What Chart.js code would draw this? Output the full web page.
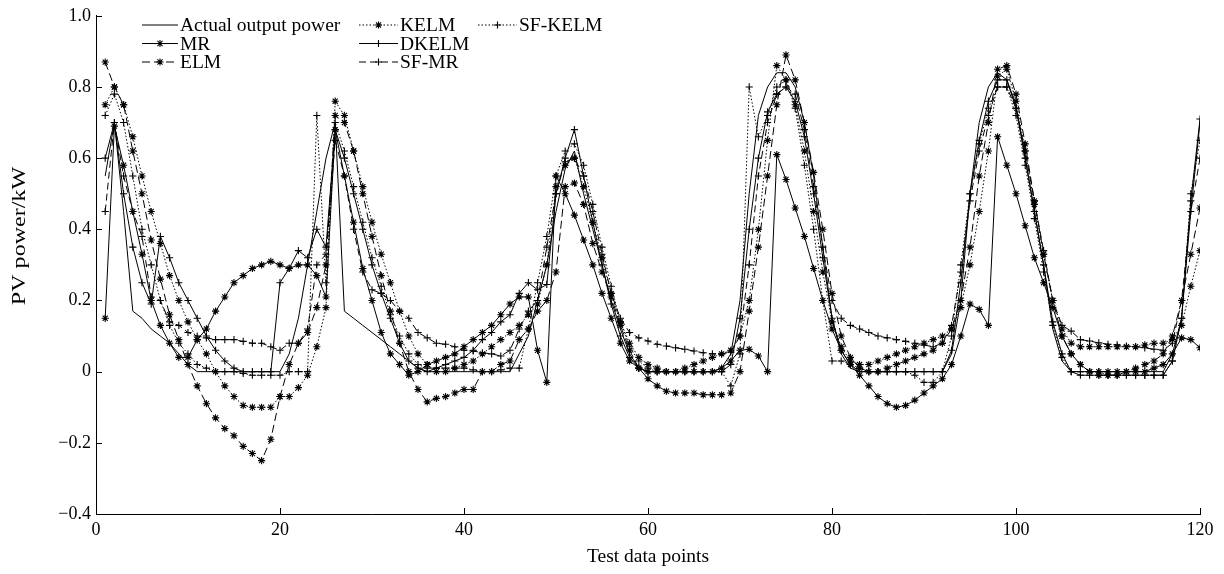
<!DOCTYPE html>
<html lang="en">

<head>
    <meta charset="UTF-8" />
    <title>PV power forecast</title>
    <script src="https://cdn.jsdelivr.net/npm/chart.js"></script>
    <style>
        body { margin: 0; background: #fff; }
        #caixa { width: 1224px; height: 574px; }
    </style>
</head>

<body>
    <div id="caixa"><canvas id="grafico" width="1224" height="574"></canvas></div>
</body>

<script>

    // indice dos pontos de teste (1..120)
    const pontos = Array.from({ length: 120 }, (_, k) => k + 1);

    const actualPower = [
        0.55, 0.70, 0.45, 0.17, 0.15, 0.12, 0.10, 0.08, 0.05, 0.02,
        0, 0, 0, 0, 0, 0, 0, 0, 0, 0,
        0.05, 0.15, 0.30, 0.45, 0.60, 0.70, 0.17, 0.15, 0.13, 0.11,
        0.09, 0.07, 0.05, 0.03, 0.01, 0, 0, 0, 0, 0,
        0, 0, 0, 0, 0, 0.05, 0.10, 0.20, 0.30, 0.45,
        0.57, 0.62, 0.50, 0.40, 0.30, 0.20, 0.12, 0.05, 0.01, 0,
        0, 0, 0, 0, 0, 0, 0, 0.01, 0.05, 0.20,
        0.50, 0.72, 0.80, 0.84, 0.84, 0.80, 0.70, 0.55, 0.35, 0.15,
        0.05, 0.01, 0, 0, 0, 0, 0, 0, 0, 0,
        0, 0, 0.05, 0.20, 0.50, 0.70, 0.80, 0.84, 0.82, 0.75,
        0.60, 0.45, 0.30, 0.12, 0.03, 0, 0, 0, 0, 0,
        0, 0, 0, 0, 0, 0, 0.05, 0.15, 0.45, 0.70
    ];

    const mrPred = [
        0.15, 0.69, 0.58, 0.45, 0.33, 0.20, 0.13, 0.08, 0.04, 0.04,
        0.09, 0.12, 0.17, 0.21, 0.25, 0.27, 0.29, 0.30, 0.31, 0.30,
        0.29, 0.30, 0.30, 0.27, 0.21, 0.68, 0.55, 0.42, 0.29, 0.20,
        0.11, 0.05, 0.02, -0.01, 0.00, 0.02, 0.03, 0.04, 0.05, 0.07,
        0.09, 0.11, 0.13, 0.16, 0.19, 0.21, 0.21, 0.06, -0.03, 0.55,
        0.50, 0.44, 0.37, 0.30, 0.22, 0.15, 0.08, 0.03, 0.01, 0.00,
        0.00, 0.00, 0.00, 0.00, 0.00, 0.00, 0.00, 0.01, 0.03, 0.06,
        0.063, 0.044, 0.00, 0.61, 0.54, 0.46, 0.38, 0.29, 0.20, 0.12,
        0.06, 0.02, -0.01, -0.04, -0.07, -0.09, -0.10, -0.095, -0.08, -0.06,
        -0.04, -0.02, 0.02, 0.10, 0.19, 0.175, 0.13, 0.66, 0.58, 0.50,
        0.41, 0.32, 0.25, 0.18, 0.10, 0.05, 0.02, 0.00, 0.00, 0.00,
        0.00, 0.00, 0.00, 0.00, 0.01, 0.02, 0.05, 0.095, 0.09, 0.067
    ];

    const elmPred = [
        0.87, 0.80, 0.75, 0.62, 0.50, 0.37, 0.26, 0.16, 0.09, 0.02,
        -0.04, -0.09, -0.13, -0.16, -0.18, -0.21, -0.23, -0.25, -0.19, -0.07,
        0.02, 0.08, 0.11, 0.18, 0.30, 0.72, 0.70, 0.62, 0.50, 0.38,
        0.27, 0.17, 0.08, 0.00, -0.05, -0.085, -0.075, -0.07, -0.06, -0.05,
        -0.05, 0.00, 0.00, 0.02, 0.03, 0.09, 0.12, 0.17, 0.20, 0.28,
        0.52, 0.53, 0.47, 0.36, 0.28, 0.21, 0.13, 0.06, 0.01, -0.02,
        -0.04, -0.055, -0.06, -0.06, -0.06, -0.065, -0.065, -0.065, -0.06, 0.00,
        0.17, 0.35, 0.55, 0.75, 0.89, 0.82, 0.70, 0.56, 0.40, 0.22,
        0.10, 0.04, 0.01, 0.00, 0.00, 0.01, 0.02, 0.03, 0.04, 0.05,
        0.06, 0.08, 0.12, 0.20, 0.35, 0.55, 0.70, 0.85, 0.86, 0.78,
        0.64, 0.48, 0.33, 0.20, 0.10, 0.05, 0.02, 0.00, -0.01, -0.01,
        -0.01, 0.00, 0.01, 0.02, 0.03, 0.05, 0.10, 0.20, 0.33, 0.46
    ];

    const kelmPred = [
        0.75, 0.80, 0.75, 0.66, 0.55, 0.45, 0.36, 0.27, 0.20, 0.14,
        0.09, 0.05, 0.00, -0.04, -0.07, -0.095, -0.10, -0.10, -0.10, -0.07,
        -0.07, -0.045, -0.01, 0.07, 0.18, 0.76, 0.72, 0.62, 0.52, 0.42,
        0.33, 0.25, 0.17, 0.10, 0.05, 0.02, 0.00, 0.00, 0.01, 0.02,
        0.03, 0.05, 0.07, 0.09, 0.11, 0.13, 0.16, 0.19, 0.30, 0.52,
        0.58, 0.60, 0.52, 0.42, 0.32, 0.22, 0.14, 0.08, 0.04, 0.02,
        0.01, 0.00, 0.00, 0.01, 0.02, 0.03, 0.04, 0.05, 0.06, 0.10,
        0.20, 0.40, 0.65, 0.86, 0.82, 0.75, 0.62, 0.45, 0.28, 0.14,
        0.07, 0.03, 0.02, 0.02, 0.03, 0.04, 0.05, 0.06, 0.07, 0.08,
        0.09, 0.10, 0.12, 0.18, 0.30, 0.45, 0.62, 0.83, 0.85, 0.76,
        0.62, 0.47, 0.33, 0.20, 0.12, 0.08, 0.07, 0.07, 0.07, 0.07,
        0.07, 0.07, 0.07, 0.075, 0.08, 0.08, 0.09, 0.13, 0.24, 0.34
    ];

    const dkelmPred = [
        0.60, 0.70, 0.50, 0.35, 0.25, 0.19, 0.38, 0.32, 0.25, 0.20,
        0.15, 0.10, 0.06, 0.03, 0.01, 0.00, 0.00, 0.00, 0.00, 0.25,
        0.29, 0.34, 0.32, 0.40, 0.35, 0.68, 0.60, 0.50, 0.40, 0.30,
        0.22, 0.15, 0.08, 0.03, 0.01, 0.00, 0.01, 0.02, 0.03, 0.04,
        0.06, 0.09, 0.11, 0.14, 0.16, 0.22, 0.25, 0.23, 0.245, 0.50,
        0.60, 0.68, 0.55, 0.42, 0.30, 0.19, 0.10, 0.04, 0.01, 0.00,
        0.00, 0.00, 0.00, 0.00, 0.00, 0.00, 0.00, 0.00, 0.02, 0.15,
        0.40, 0.60, 0.73, 0.78, 0.80, 0.76, 0.66, 0.50, 0.32, 0.15,
        0.06, 0.02, 0.00, 0.00, 0.00, 0.00, 0.00, 0.00, 0.00, 0.00,
        0.00, 0.00, 0.06, 0.25, 0.50, 0.65, 0.76, 0.82, 0.82, 0.74,
        0.60, 0.45, 0.30, 0.14, 0.05, 0.00, -0.01, -0.01, -0.01, -0.01,
        -0.01, -0.01, -0.01, -0.01, -0.01, -0.01, 0.03, 0.15, 0.48, 0.71
    ];

    const sfmrPred = [
        0.45, 0.70, 0.55, 0.45, 0.38, 0.21, 0.20, 0.14, 0.13, 0.11,
        0.10, 0.095, 0.09, 0.09, 0.09, 0.085, 0.08, 0.08, 0.07, 0.06,
        0.08, 0.08, 0.12, 0.30, 0.33, 0.65, 0.55, 0.40, 0.28, 0.23,
        0.22, 0.20, 0.17, 0.15, 0.11, 0.095, 0.08, 0.077, 0.07, 0.06,
        0.058, 0.053, 0.05, 0.044, 0.06, 0.12, 0.17, 0.20, 0.35, 0.50,
        0.59, 0.60, 0.55, 0.45, 0.33, 0.22, 0.15, 0.11, 0.095, 0.086,
        0.077, 0.072, 0.067, 0.063, 0.058, 0.053, 0.05, 0.05, 0.055, 0.10,
        0.30, 0.55, 0.70, 0.78, 0.80, 0.78, 0.68, 0.52, 0.35, 0.20,
        0.15, 0.13, 0.12, 0.11, 0.10, 0.095, 0.09, 0.085, 0.08, 0.075,
        0.07, 0.08, 0.13, 0.28, 0.48, 0.62, 0.72, 0.80, 0.80, 0.74,
        0.62, 0.48, 0.34, 0.20, 0.13, 0.114, 0.09, 0.086, 0.081, 0.077,
        0.075, 0.072, 0.07, 0.067, 0.063, 0.06, 0.08, 0.20, 0.45, 0.60
    ];

    const sfkelmPred = [
        0.72, 0.78, 0.70, 0.55, 0.40, 0.30, 0.20, 0.13, 0.08, 0.05,
        0.02, 0.01, 0.00, 0.00, 0.00, -0.005, -0.01, -0.01, -0.01, -0.01,
        0.00, 0.00, 0.00, 0.72, 0.25, 0.70, 0.62, 0.52, 0.42, 0.32,
        0.24, 0.16, 0.10, 0.05, 0.02, 0.01, 0.01, 0.01, 0.01, 0.01,
        0.005, 0.00, 0.00, 0.005, 0.01, 0.01, 0.12, 0.25, 0.38, 0.55,
        0.62, 0.64, 0.58, 0.47, 0.35, 0.24, 0.14, 0.07, 0.03, 0.01,
        0.00, 0.00, 0.00, 0.00, 0.00, 0.00, 0.00, 0.00, -0.04, 0.05,
        0.80, 0.66, 0.72, 0.80, 0.82, 0.74, 0.58, 0.40, 0.20, 0.03,
        0.03, 0.02, 0.01, 0.00, 0.00, 0.00, 0.00, 0.00, -0.01, -0.03,
        -0.03, 0.00, 0.10, 0.30, 0.50, 0.64, 0.74, 0.80, 0.80, 0.72,
        0.58, 0.43, 0.28, 0.13, 0.04, 0.00, 0.00, 0.00, 0.00, -0.01,
        -0.01, -0.01, -0.01, -0.01, -0.01, -0.01, 0.03, 0.15, 0.50, 0.65
    ];

    const xTicks = [0, 20, 40, 60, 80, 100, 120];
    const yTicks = [-0.4, -0.2, 0, 0.2, 0.4, 0.6, 0.8, 1.0];

    const fonte = 'Liberation Serif';

    function serie(nome, valores, estilo, traco) {
        return {
            label: nome,
            data: pontos.map((p, k) => ({ x: p, y: valores[k] })),
            borderColor: '#000',
            borderWidth: 1,
            borderDash: traco,
            pointStyle: estilo || 'circle',
            pointRadius: estilo ? 3.6 : 0,
            pointBorderColor: '#000',
            pointBorderWidth: 1.1,
            pointBackgroundColor: '#000',
            fill: false,
            tension: 0
        }
    }

    const datasets = [
        serie('Actual output power', actualPower, null, []),
        serie('MR', mrPred, 'star', []),
        serie('ELM', elmPred, 'star', [8, 4]),
        serie('KELM', kelmPred, 'star', [1.5, 2]),
        serie('DKELM', dkelmPred, 'cross', []),
        serie('SF-MR', sfmrPred, 'cross', [7, 4]),
        serie('SF-KELM', sfkelmPred, 'cross', [1.5, 2])
    ];

    // desenha o marcador (asterisco ou cruz)
    function marca(ctx, estilo, x, y, r) {
        if (!estilo) return;
        ctx.beginPath();
        ctx.moveTo(x - r, y); ctx.lineTo(x + r, y);
        ctx.moveTo(x, y - r); ctx.lineTo(x, y + r);
        if (estilo === 'star') {
            const d = r * Math.SQRT1_2;
            ctx.moveTo(x - d, y - d); ctx.lineTo(x + d, y + d);
            ctx.moveTo(x - d, y + d); ctx.lineTo(x + d, y - d);
        }
        ctx.stroke();
    }

    // legenda em colunas, dentro do grafico
    const legendaPos = [
        { i: 0, x0: 142, x1: 178, y: 25 },
        { i: 1, x0: 142, x1: 178, y: 43.5 },
        { i: 2, x0: 142, x1: 178, y: 62 },
        { i: 3, x0: 359, x1: 398, y: 25 },
        { i: 4, x0: 359, x1: 398, y: 43.5 },
        { i: 5, x0: 359, x1: 398, y: 62 },
        { i: 6, x0: 478, x1: 517, y: 25 }
    ];

    const legendaPlugin = {
        id: 'legenda',
        afterDraw(chart) {
            const ctx = chart.ctx;
            ctx.save();
            ctx.strokeStyle = '#000';
            ctx.fillStyle = '#000';
            ctx.font = '19.5px "' + fonte + '"';
            ctx.textBaseline = 'middle';
            legendaPos.forEach(l => {
                const ds = chart.data.datasets[l.i];
                ctx.lineWidth = 1;
                ctx.setLineDash(ds.borderDash);
                ctx.beginPath();
                ctx.moveTo(l.x0, l.y);
                ctx.lineTo(l.x1, l.y);
                ctx.stroke();
                ctx.setLineDash([]);
                ctx.lineWidth = 1.1;
                if (ds.pointRadius > 0) marca(ctx, ds.pointStyle, (l.x0 + l.x1) / 2, l.y, 3.6);
                ctx.fillText(ds.label, l.x1 + 2, l.y + 1);
            });

            // titulo do eixo y (um pouco esticado, como no original)
            ctx.translate(20, 236);
            ctx.rotate(-Math.PI / 2);
            ctx.scale(1.3, 1);
            ctx.font = '18.5px "' + fonte + '"';
            ctx.textAlign = 'center';
            ctx.fillText('PV power/kW', 0, 0);
            ctx.restore();
        }
    };

    // marcas dos eixos para dentro
    const ticksPlugin = {
        id: 'ticksDentro',
        afterDraw(chart) {
            const ctx = chart.ctx;
            const area = chart.chartArea;
            ctx.save();
            ctx.strokeStyle = '#000';
            ctx.lineWidth = 1;
            ctx.beginPath();
            yTicks.forEach(v => {
                const py = Math.round(chart.scales.y.getPixelForValue(v)) + 0.5;
                ctx.moveTo(area.left, py);
                ctx.lineTo(area.left + 6, py);
            });
            xTicks.forEach(v => {
                const px = Math.round(chart.scales.x.getPixelForValue(v)) + 0.5;
                ctx.moveTo(px, area.bottom);
                ctx.lineTo(px, area.bottom - 6);
            });
            ctx.stroke();
            ctx.restore();
        }
    };

    new Chart(document.getElementById('grafico'), {
        type: 'line',
        data: { datasets: datasets },
        options: {
            responsive: false,
            animation: false,
            layout: { padding: { top: 15, right: 24, left: 0, bottom: 0 } },
            plugins: {
                legend: { display: false },
                tooltip: { enabled: false }
            },
            scales: {
                x: {
                    type: 'linear',
                    min: 0,
                    max: 120,
                    afterBuildTicks: s => { s.ticks = xTicks.map(v => ({ value: v })); },
                    afterFit: s => { s.height = 60; },
                    grid: { display: false, drawTicks: false },
                    border: { color: '#000', width: 1 },
                    ticks: {
                        color: '#000',
                        padding: 5,
                        maxRotation: 0,
                        autoSkip: false,
                        font: { family: fonte, size: 18 }
                    },
                    title: {
                        display: true,
                        text: 'Test data points',
                        color: '#000',
                        font: { family: fonte, size: 19.5 },
                        padding: { top: 0, bottom: 5 }
                    }
                },
                y: {
                    min: -0.4,
                    max: 1.0,
                    afterBuildTicks: s => { s.ticks = yTicks.map(v => ({ value: v })); },
                    afterFit: s => { s.width = 96; },
                    grid: { display: false, drawTicks: false },
                    border: { color: '#000', width: 1 },
                    ticks: {
                        color: '#000',
                        padding: 5,
                        font: { family: fonte, size: 18 },
                        callback: v => Math.abs(v) < 1e-9 ? '0' : (v < 0 ? '\u2212' + Math.abs(v).toFixed(1) : v.toFixed(1))
                    }
                }
            }
        },
        plugins: [legendaPlugin, ticksPlugin]
    });

</script>

</html>
